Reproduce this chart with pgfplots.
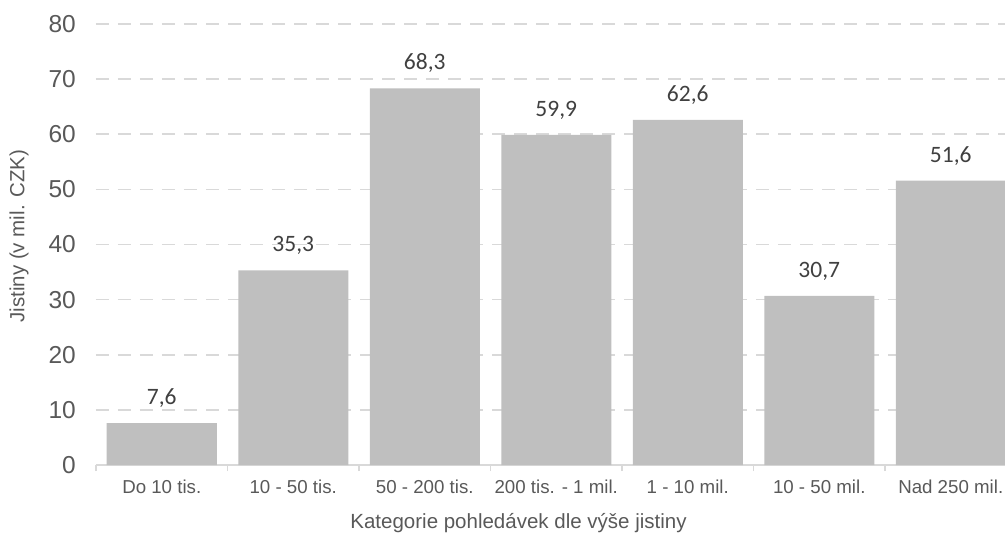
\documentclass[border=0pt]{standalone}
\usepackage{pgfplots}
\pgfplotsset{compat=1.18}
\usepackage{fontspec}
\setmainfont{Liberation Sans}
\newfontfamily\calibri{Carlito}
\definecolor{txt}{HTML}{595959}
\definecolor{gridc}{HTML}{D9D9D9}
\definecolor{barc}{HTML}{BFBFBF}
\definecolor{lbl}{HTML}{404040}

\begin{document}
\begin{tikzpicture}
\begin{axis}[
  x=131.5bp, y=5.5125bp,
  xmin=-0.5, xmax=6.5, ymin=0, ymax=80,
  ybar, bar width=110bp,
  /pgf/number format/assume math mode=true,
  axis x line*=bottom,
  axis y line*=left,
  x axis line style={draw=gridc, line width=1.5bp, -},
  y axis line style={draw=none},
  ymajorgrids,
  grid style={draw=gridc, line width=1.5bp, dash pattern=on 13bp off 9bp},
  ytick={0,10,...,80},
  xtick={0,...,6},
  xticklabels={Do 10 tis., 10 - 50 tis., 50 - 200 tis., 200 tis. - 1 mil., 1 - 10 mil., 10 - 50 mil., Nad 250 mil.},
  minor xtick={-0.5,0.5,...,6.5},
  major tick length=0pt,
  minor tick length=6bp,
  tick align=outside,
  major tick style={draw=none},
  minor x tick style={draw=gridc, line width=1.5bp},
  xticklabel style={font=\fontsize{18.7bp}{20bp}\selectfont, text=txt, anchor=base, inner sep=0pt, yshift=-28.5bp},
  yticklabel style={font=\fontsize{24.5bp}{26bp}\selectfont, text=txt, anchor=east, inner sep=0pt, xshift=-20bp},
  xlabel={Kategorie pohledávek dle výše jistiny},
  ylabel={Jistiny (v mil. CZK)},
  x label style={font=\fontsize{20.5bp}{22bp}\selectfont, text=txt, at={(axis description cs:0.459,0)}, anchor=base, inner sep=0pt, yshift=-63bp},
  % the label is rotated, so its own y direction points left
  y label style={font=\fontsize{20.5bp}{22bp}\selectfont, text=txt, at={(axis description cs:0,0.519)}, anchor=center, inner sep=0pt, yshift=77bp},
  nodes near coords={\pgfmathprintnumber[fixed,fixed zerofill,precision=1,use comma]{\pgfplotspointmeta}},
  nodes near coords style={font=\calibri\fontsize{23.5bp}{25bp}\selectfont, text=lbl, anchor=base, inner sep=0pt, yshift=18.5bp},
  clip=false,
]
\addplot[fill=barc, draw=none] coordinates {
  (0,7.6) (1,35.3) (2,68.3) (3,59.9) (4,62.6) (5,30.7) (6,51.6)
};
\end{axis}
% page area: the axis runs past the right edge
\pgfresetboundingbox
\path[use as bounding box] ([shift={(-96bp,-68bp)}]current axis.south west) rectangle ([shift={(909bp,465bp)}]current axis.south west);
\end{tikzpicture}
\end{document}
